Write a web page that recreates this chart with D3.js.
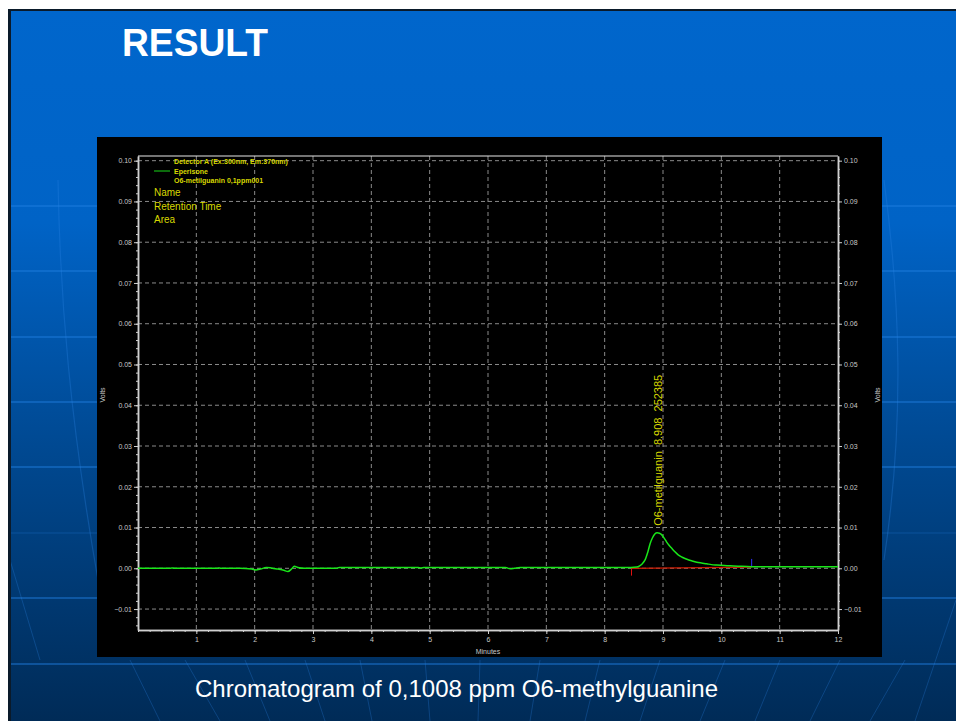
<!DOCTYPE html>
<html>
<head>
<meta charset="utf-8">
<script src="https://cdn.jsdelivr.net/npm/d3@7"></script>
<style>
  html, body { margin: 0; padding: 0; background: #ffffff; }
  svg { display: block; }
  text { font-family: "Liberation Sans", Arial, sans-serif; }
</style>
</head>
<body>
<script>
// Detector trace: retention time (minutes) and signal (volts)
const timeMin = [0, 0.55, 0.58, 0.62, 1.35, 1.38, 1.42, 1.75, 1.95, 2.02, 2.10, 2.20, 2.28, 2.40, 2.50, 2.57, 2.63, 2.68, 2.74, 2.85, 3.40, 3.45, 4.80, 4.85, 4.90, 6.30, 6.38, 6.45, 6.55, 8.45, 8.55, 8.60, 8.65, 8.69, 8.74, 8.78, 8.82, 8.86, 8.90, 8.94, 8.98, 9.02, 9.06, 9.10, 9.15, 9.20, 9.26, 9.33, 9.41, 9.50, 9.58, 9.66, 9.75, 9.83, 9.92, 10.05, 10.15, 10.30, 10.52, 12.0];
const volts = [0.0000, 0.0000, 0.0001, 0.0000, 0.0000, 0.0001, 0.0000, 0.0000, -0.0002, -0.0004, -0.0002, 0.0002, 0.0001, -0.0002, -0.0005, -0.0008, -0.0002, 0.0005, 0.0002, 0.0000, 0.0000, 0.0002, 0.0002, 0.0001, 0.0002, 0.0002, -0.0001, 0.0000, 0.0002, 0.0002, 0.0003, 0.0006, 0.0012, 0.0020, 0.0040, 0.0061, 0.0075, 0.0084, 0.0087, 0.0086, 0.0082, 0.0074, 0.0065, 0.0057, 0.0049, 0.0041, 0.0033, 0.0027, 0.0022, 0.0018, 0.0015, 0.0013, 0.0011, 0.0009, 0.0008, 0.0007, 0.0006, 0.0005, 0.0004, 0.0004];

// Integration baseline of the peak (start / end)
const baseTime = [8.46, 10.52];
const baseVolts = [0.0000, 0.0003];

// Peak annotation
const peakName = "O6-metilguanin";
const peakRT = 8.908;
const peakArea = 252385;
const peakHeight = 0.0087;

// Axis ticks
const xTicks = [1, 2, 3, 4, 5, 6, 7, 8, 9, 10, 11, 12];
const yTicks = [-0.01, 0.00, 0.01, 0.02, 0.03, 0.04, 0.05, 0.06, 0.07, 0.08, 0.09, 0.10];

// Legend lines
const legendHeader = "Detector A (Ex:300nm, Em:370nm)";
const legendSeries = ["Eperisone", "O6-metilguanin 0,1ppm001"];
const annotationKeys = ["Name", "Retention Time", "Area"];

const W = 956, H = 721;
const svg = d3.select("body").append("svg").attr("width", W).attr("height", H);
const defs = svg.append("defs");

// ---- slide background ----
const grad = defs.append("linearGradient").attr("id", "slideBg")
  .attr("x1", 0).attr("y1", 0).attr("x2", 0).attr("y2", 1);
grad.append("stop").attr("offset", "0%").attr("stop-color", "#0066cc");
grad.append("stop").attr("offset", "30%").attr("stop-color", "#0063c6");
grad.append("stop").attr("offset", "60%").attr("stop-color", "#004a94");
grad.append("stop").attr("offset", "100%").attr("stop-color", "#002b57");

svg.append("rect").attr("x", 10).attr("y", 10).attr("width", W - 10).attr("height", H - 10)
  .attr("fill", "url(#slideBg)");

// decorative perspective lines of the slide
const deco = svg.append("g").attr("fill", "none");
[206, 271, 337, 402, 467, 533, 598, 664].forEach((y, i) => {
  deco.append("line").attr("x1", 11).attr("x2", W).attr("y1", y).attr("y2", y)
    .attr("stroke", "#1f7ee0").attr("stroke-width", 2)
    .attr("stroke-opacity", i === 5 ? 0.15 : 0.45);
});
deco.append("path").attr("d", "M58,180 C60,300 70,420 98,580")
  .attr("stroke", "#2a86e6").attr("stroke-opacity", 0.3).attr("stroke-width", 1.2);
deco.append("path").attr("d", "M884,180 C900,300 905,420 884,560")
  .attr("stroke", "#2a86e6").attr("stroke-opacity", 0.3).attr("stroke-width", 1.2);
// fan of faint lines at the bottom
[[40, 660, 10, 560], [130, 660, 160, 721], [185, 660, 220, 721], [245, 660, 270, 721], [305, 660, 325, 721],
 [360, 660, 372, 721], [425, 660, 430, 721], [480, 660, 478, 721], [540, 660, 530, 721], [600, 660, 585, 721],
 [660, 660, 640, 721], [725, 660, 700, 721], [780, 660, 755, 721], [840, 660, 810, 721], [905, 660, 870, 721],
 [956, 600, 915, 721]].forEach(d => {
  deco.append("line").attr("x1", d[0]).attr("y1", d[1]).attr("x2", d[2]).attr("y2", d[3])
    .attr("stroke", "#2a86e6").attr("stroke-opacity", 0.28).attr("stroke-width", 1);
});

// slide frame edges
svg.append("rect").attr("x", 8).attr("y", 9).attr("width", W - 8).attr("height", 2).attr("fill", "#0a1a2a");
svg.append("rect").attr("x", 8).attr("y", 9).attr("width", 3).attr("height", H - 9).attr("fill", "#0a1a2a");

// title and caption
svg.append("text").attr("x", 122).attr("y", 56)
  .attr("font-size", 38).attr("font-weight", "bold").attr("fill", "#ffffff")
  .attr("textLength", 146).attr("lengthAdjust", "spacingAndGlyphs")
  .text("RESULT");
svg.append("text").attr("x", 195).attr("y", 697)
  .attr("font-size", 24).attr("fill", "#ffffff")
  .attr("textLength", 523).attr("lengthAdjust", "spacingAndGlyphs")
  .text("Chromatogram of 0,1008 ppm O6-methylguanine");

// ---- chromatogram panel ----
svg.append("rect").attr("x", 97).attr("y", 137).attr("width", 785).attr("height", 520).attr("fill", "#000000");

const plot = { left: 138, right: 838, top: 156, bottom: 630 };
const x = d3.scaleLinear().domain([0, 12]).range([plot.left, plot.right]);
const y = d3.scaleLinear().domain([-0.01514, 0.10115]).range([plot.bottom, plot.top]);

const axisColor = "#d0d0d0";
const gridColor = "#8a8a8a";

// grid
const grid = svg.append("g");
yTicks.forEach(v => {
  grid.append("line").attr("x1", plot.left).attr("x2", plot.right)
    .attr("y1", y(v)).attr("y2", y(v))
    .attr("stroke", gridColor).attr("stroke-width", 1).attr("stroke-dasharray", "4,3");
});
xTicks.filter(v => v < 12).forEach(v => {
  grid.append("line").attr("y1", plot.top).attr("y2", plot.bottom)
    .attr("x1", x(v)).attr("x2", x(v))
    .attr("stroke", gridColor).attr("stroke-width", 1).attr("stroke-dasharray", "4,3");
});

// top border
svg.append("line").attr("x1", plot.left).attr("x2", plot.right)
  .attr("y1", plot.top).attr("y2", plot.top).attr("stroke", "#e8e8e8").attr("stroke-width", 1.2);

const yMinor = d3.range(-0.014, 0.1005, 0.002);
const xMinor = d3.range(0, 12.001, 0.2);
const fmtY = d3.format(".2f");

function styleAxis(g) {
  g.selectAll(".domain").attr("stroke", axisColor).attr("stroke-width", 1.5);
  g.selectAll(".tick line").attr("stroke", axisColor);
  g.selectAll(".tick text").attr("fill", "#c8c8c8").attr("font-size", 7)
    .attr("font-family", "'Liberation Sans', Arial, sans-serif");
}

// left axis (minor + major)
svg.append("g").attr("transform", `translate(${plot.left},0)`)
  .call(d3.axisLeft(y).tickValues(yMinor).tickSize(2).tickFormat("").tickSizeOuter(0))
  .call(styleAxis);
svg.append("g").attr("transform", `translate(${plot.left},0)`)
  .call(d3.axisLeft(y).tickValues(yTicks).tickSize(4).tickPadding(2).tickFormat(fmtY).tickSizeOuter(0))
  .call(styleAxis);

// right axis
svg.append("g").attr("transform", `translate(${plot.right},0)`)
  .call(d3.axisRight(y).tickValues(yMinor).tickSize(2).tickFormat("").tickSizeOuter(0))
  .call(styleAxis);
svg.append("g").attr("transform", `translate(${plot.right},0)`)
  .call(d3.axisRight(y).tickValues(yTicks).tickSize(4).tickPadding(2).tickFormat(fmtY).tickSizeOuter(0))
  .call(styleAxis);

// bottom axis
svg.append("g").attr("transform", `translate(0,${plot.bottom})`)
  .call(d3.axisBottom(x).tickValues(xMinor).tickSize(2).tickFormat("").tickSizeOuter(0))
  .call(styleAxis);
svg.append("g").attr("transform", `translate(0,${plot.bottom})`)
  .call(d3.axisBottom(x).tickValues(xTicks).tickSize(4).tickPadding(3).tickFormat(d3.format("d")).tickSizeOuter(0))
  .call(styleAxis);

// axis titles
svg.append("text").attr("transform", "translate(105,395) rotate(-90)")
  .attr("text-anchor", "middle").attr("font-size", 7).attr("fill", "#c8c8c8").text("Volts");
svg.append("text").attr("transform", "translate(880,395) rotate(-90)")
  .attr("text-anchor", "middle").attr("font-size", 7).attr("fill", "#c8c8c8").text("Volts");
svg.append("text").attr("x", (plot.left + plot.right) / 2).attr("y", 654)
  .attr("text-anchor", "middle").attr("font-size", 7).attr("fill", "#c8c8c8").text("Minutes");

// ---- traces ----
const trace = timeMin.map((t, i) => [t, volts[i]]);
const line = d3.line().x(d => x(d[0])).y(d => y(d[1])).curve(d3.curveMonotoneX);

// integration baseline with start/end markers (drawn under the trace)
svg.append("line")
  .attr("x1", x(baseTime[0])).attr("y1", y(baseVolts[0]))
  .attr("x2", x(baseTime[1])).attr("y2", y(baseVolts[1]))
  .attr("stroke", "#d01a00").attr("stroke-width", 1.3);
svg.append("line")
  .attr("x1", x(baseTime[0])).attr("x2", x(baseTime[0]))
  .attr("y1", y(baseVolts[0])).attr("y2", y(baseVolts[0] - 0.0018))
  .attr("stroke", "#e01010").attr("stroke-width", 1);
svg.append("line")
  .attr("x1", x(baseTime[1])).attr("x2", x(baseTime[1]))
  .attr("y1", y(baseVolts[1])).attr("y2", y(baseVolts[1] + 0.0020))
  .attr("stroke", "#3030ff").attr("stroke-width", 1);

svg.append("path").datum(trace).attr("d", line)
  .attr("fill", "none").attr("stroke", "#19e619").attr("stroke-width", 1.5);

// peak annotation
svg.append("text")
  .attr("transform", `translate(${x(peakRT) + 4},${y(peakHeight) - 7}) rotate(-90)`)
  .attr("font-size", 11).attr("fill", "#d8d800")
  .style("white-space", "pre")
  .text(`${peakName}  ${peakRT.toFixed(3)}  ${peakArea}`);

// legend
const legend = svg.append("g");
legend.append("text").attr("x", 174).attr("y", 164)
  .attr("font-size", 7).attr("font-weight", "bold").attr("fill", "#d8d800").text(legendHeader);
legend.append("line").attr("x1", 154).attr("x2", 170).attr("y1", 171).attr("y2", 171)
  .attr("stroke", "#109010").attr("stroke-width", 1.5);
legendSeries.forEach((s, i) => {
  legend.append("text").attr("x", 174).attr("y", 173.5 + i * 9.5)
    .attr("font-size", 7).attr("font-weight", "bold").attr("fill", "#d8d800").text(s);
});
annotationKeys.forEach((s, i) => {
  legend.append("text").attr("x", 154).attr("y", 196 + i * 13.5)
    .attr("font-size", 10).attr("fill", "#d8d800").text(s);
});
</script>
</body>
</html>
